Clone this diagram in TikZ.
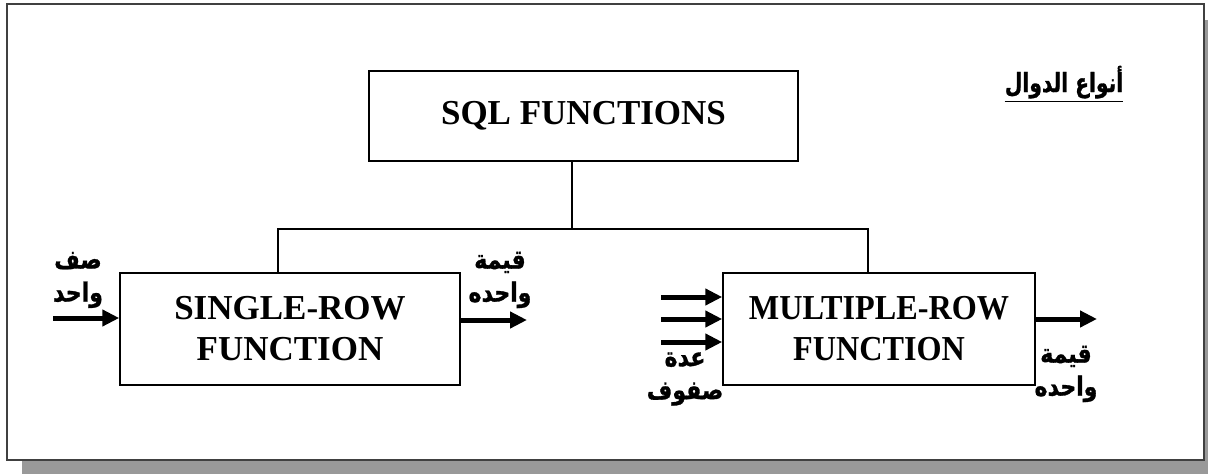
\documentclass[tikz,border=0pt]{standalone}
\usepackage{fontspec}
\usepackage{graphicx}
\setmainfont{Liberation Serif}
\newfontfamily\arabicfont[Script=Arabic,FakeBold=1.2]{DejaVu Sans Bold}
\TeXXeTstate=1
\usetikzlibrary{arrows.meta}
\newcommand\artext[1]{\scalebox{1}[1.2]{\beginR #1\endR}}
\begin{document}
\begin{tikzpicture}[x=1pt,y=-1pt,
  box/.style={draw, line width=1.5pt, inner sep=0pt, align=center,
    font=\bfseries\fontsize{35}{41}\selectfont},
  ar/.style={inner sep=0pt, align=center,
    font=\arabicfont\fontsize{22}{33}\selectfont},
  flow/.style={line width=5pt, -{Triangle[length=17pt,width=16pt]}},
  link/.style={line width=1.5pt}]
\useasboundingbox (0,0) rectangle (1208,474);
% shadow and frame
\fill[black!40] (22,461) rectangle (1208,474);
\fill[black!40] (1205,20) rectangle (1208,474);
\draw[line width=2pt, black!75] (7,4) rectangle (1204,460);
% boxes
\node[box, minimum width=429pt, minimum height=90pt] (sql) at (583.5,116) {SQL FUNCTIONS};
\node[box, minimum width=340pt, minimum height=112pt] (single) at (290,329) {SINGLE-ROW\\FUNCTION};
\node[box, minimum width=312pt, minimum height=112pt] (multi) at (879,329) {\scalebox{0.92}[1]{MULTIPLE-ROW}\\\scalebox{0.92}[1]{FUNCTION}};
% tree connectors
\coordinate (j) at (572,229);
\coordinate (sl) at (278,229);
\coordinate (sr) at (868,229);
\draw[link] (j |- sql.south) -- (j);
\draw[link] (sl |- single.north) -- (sl) -- (sr) -- (sr |- multi.north);
% flows
\coordinate (in1) at (53,318);
\coordinate (out1) at (527,320);
\coordinate (in2a) at (661,297);
\coordinate (in2b) at (661,319);
\coordinate (in2c) at (661,342);
\coordinate (out2) at (1097,319);
\draw[flow] (in1) -- (in1 -| single.west);
\draw[flow] (single.east |- out1) -- (out1);
\draw[flow] (in2a) -- (in2a -| multi.west);
\draw[flow] (in2b) -- (in2b -| multi.west);
\draw[flow] (in2c) -- (in2c -| multi.west);
\draw[flow] (multi.east |- out2) -- (out2);
% labels
\node[ar] (l1) at (78,280) {\artext{صف}\\\artext{واحد}};
\node[ar] (l2) at (500,280) {\artext{قيمة}\\\artext{واحده}};
\node[ar] (l3) at (685,379) {\artext{عدة}\\\artext{صفوف}};
\node[ar] (l4) at (1066,374) {\artext{قيمة}\\\artext{واحده}};
% title
\node[ar, anchor=base] (t) at (1064,92) {\scalebox{0.92}[1.2]{\beginR أنواع الدوال\endR}};
\draw[line width=1.5pt] ([yshift=-3pt]t.south west) -- ([yshift=-3pt]t.south east);
\end{tikzpicture}
\end{document}
